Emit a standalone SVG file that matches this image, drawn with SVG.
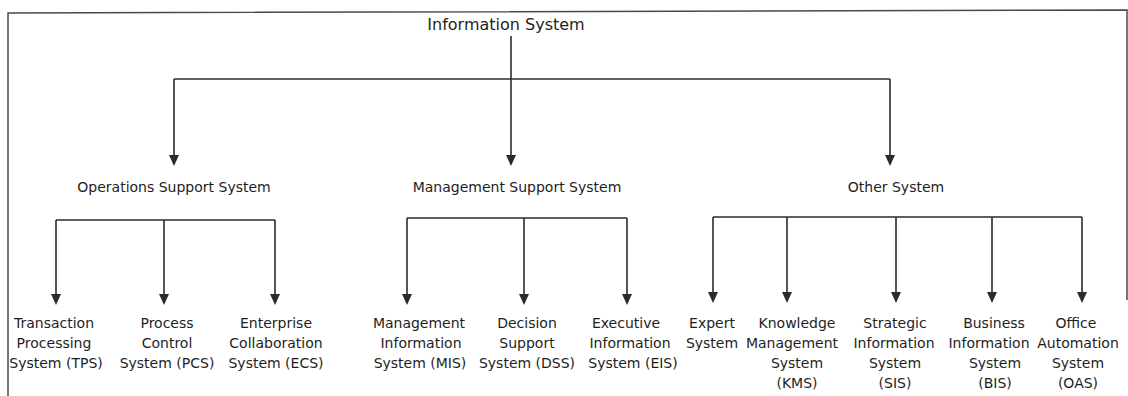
<svg xmlns="http://www.w3.org/2000/svg" width="1128" height="396" viewBox="0 0 1128 396">
  <defs>
    <style>
      .lbl { font-family: "DejaVu Sans", "Liberation Sans", sans-serif; font-size: 14px; fill: #1e1e1e; text-anchor: middle; }
      .title { font-size: 16px; }
      .conn { fill: none; stroke: #2b2b2b; stroke-width: 1.6; }
      .frame { fill: none; stroke: #4a4a4a; stroke-width: 1.5; }
    </style>
    <marker id="arrow" viewBox="0 0 11 10" refX="8" refY="5" markerWidth="11" markerHeight="10" markerUnits="userSpaceOnUse" orient="auto">
      <path d="M0,0 L11,5 L0,10 Z" fill="#2b2b2b"/>
    </marker>
  </defs>
  <rect x="0" y="0" width="1128" height="396" fill="#ffffff"/>
  <path class="frame" d="M8,398 V13 L1127,10 V300"/>

  <g id="connectors">
    <path class="conn" d="M511,36 V163" marker-end="url(#arrow)"/>
    <path class="conn" d="M174,79 H890"/>
    <path class="conn" d="M174,79 V163" marker-end="url(#arrow)"/>
    <path class="conn" d="M890,79 V163" marker-end="url(#arrow)"/>

    <path class="conn" d="M56,220 H275"/>
    <path class="conn" d="M56,220 V302" marker-end="url(#arrow)"/>
    <path class="conn" d="M164,220 V302" marker-end="url(#arrow)"/>
    <path class="conn" d="M275,220 V302" marker-end="url(#arrow)"/>

    <path class="conn" d="M407,218 H627"/>
    <path class="conn" d="M407,218 V302" marker-end="url(#arrow)"/>
    <path class="conn" d="M524,218 V302" marker-end="url(#arrow)"/>
    <path class="conn" d="M627,218 V302" marker-end="url(#arrow)"/>

    <path class="conn" d="M713,217 H1082"/>
    <path class="conn" d="M713,217 V300" marker-end="url(#arrow)"/>
    <path class="conn" d="M787,217 V300" marker-end="url(#arrow)"/>
    <path class="conn" d="M896,217 V300" marker-end="url(#arrow)"/>
    <path class="conn" d="M992,217 V300" marker-end="url(#arrow)"/>
    <path class="conn" d="M1082,217 V300" marker-end="url(#arrow)"/>
  </g>

  <g id="information-system"><text class="lbl title" x="506" y="30">Information System</text></g>
  <g id="operations-support-system"><text class="lbl" x="174" y="192">Operations Support System</text></g>
  <g id="management-support-system"><text class="lbl" x="517" y="192">Management Support System</text></g>
  <g id="other-system"><text class="lbl" x="896" y="192">Other System</text></g>

  <g id="tps"><text class="lbl" x="54" y="328"><tspan x="54">Transaction</tspan><tspan x="54" dy="20">Processing</tspan><tspan x="56" dy="20">System (TPS)</tspan></text></g>
  <g id="pcs"><text class="lbl" x="167" y="328"><tspan x="167">Process</tspan><tspan x="167" dy="20">Control</tspan><tspan x="167" dy="20">System (PCS)</tspan></text></g>
  <g id="ecs"><text class="lbl" x="276" y="328"><tspan x="276">Enterprise</tspan><tspan x="276" dy="20">Collaboration</tspan><tspan x="276" dy="20">System (ECS)</tspan></text></g>

  <g id="mis"><text class="lbl" x="419" y="328"><tspan x="419">Management</tspan><tspan x="421" dy="20">Information</tspan><tspan x="420" dy="20">System (MIS)</tspan></text></g>
  <g id="dss"><text class="lbl" x="527" y="328"><tspan x="527">Decision</tspan><tspan x="527" dy="20">Support</tspan><tspan x="527" dy="20">System (DSS)</tspan></text></g>
  <g id="eis"><text class="lbl" x="630" y="328"><tspan x="626">Executive</tspan><tspan x="630" dy="20">Information</tspan><tspan x="633" dy="20">System (EIS)</tspan></text></g>

  <g id="expert-system"><text class="lbl" x="712" y="328"><tspan x="712">Expert</tspan><tspan x="712" dy="20">System</tspan></text></g>
  <g id="kms"><text class="lbl" x="796" y="328"><tspan x="797">Knowledge</tspan><tspan x="792" dy="20">Management</tspan><tspan x="797" dy="20">System</tspan><tspan x="797" dy="20">(KMS)</tspan></text></g>
  <g id="sis"><text class="lbl" x="895" y="328"><tspan x="895">Strategic</tspan><tspan x="894" dy="20">Information</tspan><tspan x="895" dy="20">System</tspan><tspan x="895" dy="20">(SIS)</tspan></text></g>
  <g id="bis"><text class="lbl" x="993" y="328"><tspan x="994">Business</tspan><tspan x="989" dy="20">Information</tspan><tspan x="995" dy="20">System</tspan><tspan x="995" dy="20">(BIS)</tspan></text></g>
  <g id="oas"><text class="lbl" x="1077" y="328"><tspan x="1076">Office</tspan><tspan x="1078" dy="20">Automation</tspan><tspan x="1078" dy="20">System</tspan><tspan x="1078" dy="20">(OAS)</tspan></text></g>
</svg>
